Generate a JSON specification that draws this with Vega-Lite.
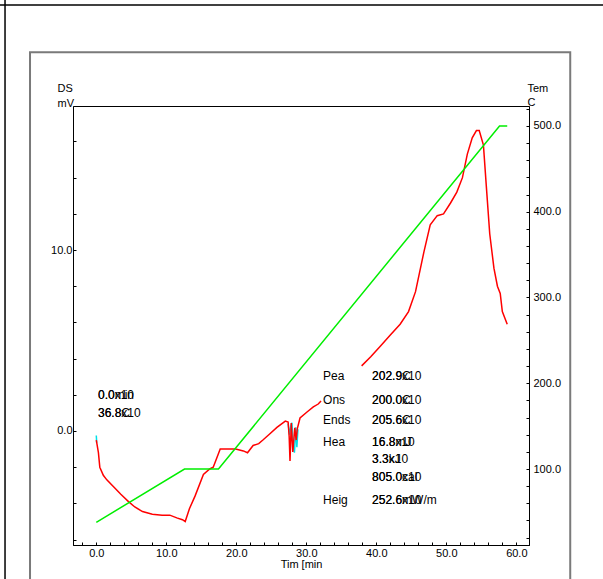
{
  "$schema": "https://vega.github.io/schema/vega-lite/v6.json",
  "width": 456,
  "height": 439,
  "autosize": {"type": "none"},
  "padding": {"left": 73, "top": 106, "right": 74, "bottom": 34},
  "background": "white",
  "config": {
    "font": "Liberation Sans",
    "view": {"stroke": "black", "strokeWidth": 1},
    "axis": {
      "domainColor": "black", "domainWidth": 1, "tickColor": "black", "labelColor": "black", "titleColor": "black",
      "labelFontSize": 11, "titleFontSize": 11, "titleFontWeight": "normal", "labelFont": "Liberation Sans", "titleFont": "Liberation Sans",
      "tickSize": -3, "labelPadding": 5, "grid": false, "labelOverlap": false, "labelFlush": false
    }
  },
  "datasets": {
    "dsc": [
      {"seg": "a", "t": 0, "mv": -0.5}, {"seg": "a", "t": 0.3, "mv": -1.2}, {"seg": "a", "t": 0.5, "mv": -2.0}, {"seg": "a", "t": 1.0, "mv": -2.45},
      {"seg": "a", "t": 1.5, "mv": -2.7}, {"seg": "a", "t": 2.5, "mv": -3.1}, {"seg": "a", "t": 3.5, "mv": -3.5}, {"seg": "a", "t": 4.6, "mv": -3.9},
      {"seg": "a", "t": 5.5, "mv": -4.2}, {"seg": "a", "t": 6.6, "mv": -4.45}, {"seg": "a", "t": 8.0, "mv": -4.6}, {"seg": "a", "t": 9.4, "mv": -4.65},
      {"seg": "a", "t": 10.5, "mv": -4.65}, {"seg": "a", "t": 11.5, "mv": -4.8}, {"seg": "a", "t": 12.3, "mv": -4.9}, {"seg": "a", "t": 12.7, "mv": -5.0},
      {"seg": "a", "t": 13.3, "mv": -4.3}, {"seg": "a", "t": 14.1, "mv": -3.6}, {"seg": "a", "t": 15.3, "mv": -2.4}, {"seg": "a", "t": 16.2, "mv": -2.1},
      {"seg": "a", "t": 16.7, "mv": -2.0}, {"seg": "a", "t": 17.4, "mv": -1.3}, {"seg": "a", "t": 17.7, "mv": -1.0}, {"seg": "a", "t": 19.9, "mv": -1.0},
      {"seg": "a", "t": 21.0, "mv": -1.1}, {"seg": "a", "t": 21.6, "mv": -1.2}, {"seg": "a", "t": 22.4, "mv": -0.8}, {"seg": "a", "t": 23.2, "mv": -0.7},
      {"seg": "a", "t": 23.8, "mv": -0.5}, {"seg": "a", "t": 24.8, "mv": -0.15}, {"seg": "a", "t": 25.8, "mv": 0.2}, {"seg": "a", "t": 27.0, "mv": 0.55},
      {"seg": "a", "t": 27.4, "mv": 0.5}, {"seg": "a", "t": 27.55, "mv": -0.3}, {"seg": "a", "t": 27.67, "mv": -1.66}, {"seg": "a", "t": 27.85, "mv": 0.44},
      {"seg": "a", "t": 28.07, "mv": -1.16}, {"seg": "a", "t": 28.35, "mv": 0.17}, {"seg": "a", "t": 28.55, "mv": -0.5}, {"seg": "a", "t": 28.7, "mv": 0.1},
      {"seg": "a", "t": 29.1, "mv": 0.72}, {"seg": "a", "t": 30.1, "mv": 1.05}, {"seg": "a", "t": 31.0, "mv": 1.33}, {"seg": "a", "t": 31.7, "mv": 1.49},
      {"seg": "a", "t": 32.1, "mv": 1.66},
      {"seg": "b", "t": 37.9, "mv": 3.6}, {"seg": "b", "t": 39.2, "mv": 4.1}, {"seg": "b", "t": 40.6, "mv": 4.7}, {"seg": "b", "t": 42.0, "mv": 5.3},
      {"seg": "b", "t": 43.4, "mv": 5.9}, {"seg": "b", "t": 44.6, "mv": 6.6}, {"seg": "b", "t": 45.6, "mv": 7.7}, {"seg": "b", "t": 46.8, "mv": 9.9},
      {"seg": "b", "t": 47.7, "mv": 11.4}, {"seg": "b", "t": 48.7, "mv": 11.9}, {"seg": "b", "t": 49.6, "mv": 12.0}, {"seg": "b", "t": 50.6, "mv": 12.6},
      {"seg": "b", "t": 51.5, "mv": 13.2}, {"seg": "b", "t": 52.3, "mv": 14.0}, {"seg": "b", "t": 53.0, "mv": 15.3}, {"seg": "b", "t": 53.7, "mv": 16.2},
      {"seg": "b", "t": 54.3, "mv": 16.6}, {"seg": "b", "t": 54.7, "mv": 16.6}, {"seg": "b", "t": 55.3, "mv": 15.8}, {"seg": "b", "t": 55.7, "mv": 13.6},
      {"seg": "b", "t": 56.2, "mv": 10.9}, {"seg": "b", "t": 56.8, "mv": 9.0}, {"seg": "b", "t": 57.3, "mv": 8.0}, {"seg": "b", "t": 57.7, "mv": 7.6},
      {"seg": "b", "t": 58.0, "mv": 6.6}, {"seg": "b", "t": 58.7, "mv": 5.9}
    ],
    "cyan": [
      {"seg": "c1", "t": 0, "mv": -0.25}, {"seg": "c1", "t": 0.05, "mv": -0.65},
      {"seg": "c2", "t": 27.4, "mv": 0.4}, {"seg": "c2", "t": 27.6, "mv": -0.2}, {"seg": "c2", "t": 27.8, "mv": 0.3}, {"seg": "c2", "t": 27.95, "mv": 0.45},
      {"seg": "c2", "t": 28.1, "mv": -0.8}, {"seg": "c2", "t": 28.3, "mv": -1.2}, {"seg": "c2", "t": 28.5, "mv": 0.2}, {"seg": "c2", "t": 28.65, "mv": -0.9},
      {"seg": "c2", "t": 28.8, "mv": 0.1}
    ],
    "temp": [
      {"t": 0, "temp": 37.8}, {"t": 12.6, "temp": 100}, {"t": 17.45, "temp": 100}, {"t": 57.6, "temp": 500}, {"t": 58.7, "temp": 500}
    ],
    "notes": [
      {"t": 0.24, "mv": 1.99, "txt": "0.0min"}, {"t": 0.24, "mv": 1.99, "txt": "0.0x10"},
      {"t": 0.24, "mv": 0.99, "txt": "36.8C"}, {"t": 0.24, "mv": 0.99, "txt": "36.8x10"},
      {"t": 32.39, "mv": 3.04, "txt": "Pea"},
      {"t": 39.39, "mv": 3.04, "txt": "202.9C"}, {"t": 39.39, "mv": 3.04, "txt": "202.9x10"},
      {"t": 32.39, "mv": 1.71, "txt": "Ons"},
      {"t": 39.39, "mv": 1.71, "txt": "200.0C"}, {"t": 39.39, "mv": 1.71, "txt": "200.0x10"},
      {"t": 32.39, "mv": 0.61, "txt": "Ends"},
      {"t": 39.39, "mv": 0.61, "txt": "205.6C"}, {"t": 39.39, "mv": 0.61, "txt": "205.6x10"},
      {"t": 32.39, "mv": -0.61, "txt": "Hea"},
      {"t": 39.39, "mv": -0.61, "txt": "16.8mJ"}, {"t": 39.39, "mv": -0.61, "txt": "16.8x10"},
      {"t": 39.39, "mv": -1.55, "txt": "3.3kJ"}, {"t": 39.39, "mv": -1.55, "txt": "3.3x10"},
      {"t": 39.39, "mv": -2.54, "txt": "805.0cal"}, {"t": 39.39, "mv": -2.54, "txt": "805.0x10"},
      {"t": 32.39, "mv": -3.81, "txt": "Heig"},
      {"t": 39.39, "mv": -3.81, "txt": "252.6mW/m"}, {"t": 39.39, "mv": -3.81, "txt": "252.6x10"}
    ]
  },
  "layer": [
    {
      "data": {"values": [{}]},
      "mark": {"type": "rect", "fill": "transparent", "stroke": "#7a7a7a", "strokeWidth": 2, "clip": false},
      "encoding": {
        "x": {"datum": -9.47, "type": "quantitative", "scale": {"domain": [-3.33, 61.81], "nice": false, "zero": false}, "axis": null},
        "x2": {"datum": 67.7},
        "y": {"datum": 20.93, "type": "quantitative", "scale": {"domain": [-6.3, 17.96], "nice": false, "zero": false}, "axis": null},
        "y2": {"datum": -10}
      }
    },
    {
      "data": {"values": [{}]},
      "mark": {"type": "rule", "color": "black", "strokeWidth": 1.5, "clip": false},
      "encoding": {
        "x": {"datum": -14, "type": "quantitative", "scale": {"domain": [-3.33, 61.81], "nice": false, "zero": false}, "axis": null},
        "x2": {"datum": 73},
        "y": {"datum": 23.54, "type": "quantitative", "scale": {"domain": [-6.3, 17.96], "nice": false, "zero": false}, "axis": null}
      }
    },
    {
      "data": {"values": [{}]},
      "mark": {"type": "rule", "color": "black", "strokeWidth": 1.5, "clip": false},
      "encoding": {
        "x": {"datum": -13.04, "type": "quantitative", "scale": {"domain": [-3.33, 61.81], "nice": false, "zero": false}, "axis": null},
        "y": {"datum": 24, "type": "quantitative", "scale": {"domain": [-6.3, 17.96], "nice": false, "zero": false}, "axis": null},
        "y2": {"datum": -10}
      }
    },
    {
      "data": {"name": "cyan"},
      "mark": {"type": "line", "color": "#00e0e8", "strokeWidth": 1.5},
      "encoding": {
        "x": {"field": "t", "type": "quantitative", "scale": {"domain": [-3.33, 61.81], "nice": false, "zero": false}, "axis": null},
        "y": {"field": "mv", "type": "quantitative", "scale": {"domain": [-6.3, 17.96], "nice": false, "zero": false}, "axis": null},
        "detail": {"field": "seg"}
      }
    },
    {
      "data": {"name": "dsc"},
      "mark": {"type": "line", "color": "#ff0000", "strokeWidth": 1.5},
      "encoding": {
        "x": {
          "field": "t", "type": "quantitative",
          "scale": {"domain": [-3.33, 61.81], "nice": false, "zero": false},
          "axis": {
            "values": [-2, 0, 2, 4, 6, 8, 10, 12, 14, 16, 18, 20, 22, 24, 26, 28, 30, 32, 34, 36, 38, 40, 42, 44, 46, 48, 50, 52, 54, 56, 58, 60],
            "labelExpr": "datum.value % 10 === 0 ? format(datum.value, '.1f') : ''",
            "labelPadding": 5,
            "title": "Tim [min", "titleBaseline": "middle", "titleY": 19
          }
        },
        "y": {
          "field": "mv", "type": "quantitative",
          "scale": {"domain": [-6.3, 17.96], "nice": false, "zero": false},
          "axis": {
            "orient": "left",
            "values": [-6, -4, -2, 0, 2, 4, 6, 8, 10, 12, 14, 16],
            "labelExpr": "datum.value % 10 === 0 ? format(datum.value, '.1f') : ''",
            "labelPadding": 4,
            "title": ["DS", "mV"], "titleAngle": 0, "titleAlign": "left", "titleBaseline": "top",
            "titleX": -16, "titleY": -24, "titleLineHeight": 15
          }
        },
        "detail": {"field": "seg"}
      }
    },
    {
      "data": {"name": "notes"},
      "mark": {"type": "text", "align": "left", "baseline": "middle", "fontSize": 12, "color": "black", "font": "Liberation Sans"},
      "encoding": {
        "x": {"field": "t", "type": "quantitative", "scale": {"domain": [-3.33, 61.81], "nice": false, "zero": false}, "axis": null},
        "y": {"field": "mv", "type": "quantitative", "scale": {"domain": [-6.3, 17.96], "nice": false, "zero": false}, "axis": null},
        "text": {"field": "txt"}
      }
    },
    {
      "data": {"name": "temp"},
      "mark": {"type": "line", "color": "#00ee00", "strokeWidth": 1.5},
      "encoding": {
        "x": {"field": "t", "type": "quantitative", "scale": {"domain": [-3.33, 61.81], "nice": false, "zero": false}, "axis": null},
        "y": {
          "field": "temp", "type": "quantitative",
          "scale": {"domain": [11.4, 523.3], "nice": false, "zero": false},
          "axis": {
            "orient": "right",
            "values": [20, 40, 60, 80, 100, 120, 140, 160, 180, 200, 220, 240, 260, 280, 300, 320, 340, 360, 380, 400, 420, 440, 460, 480, 500, 520],
            "labelExpr": "datum.value % 100 === 0 ? format(datum.value, '.1f') : ''",
            "labelPadding": 7,
            "title": ["Tem", "C"], "titleAngle": 0, "titleAlign": "left", "titleBaseline": "top",
            "titleX": -2, "titleY": -24, "titleLineHeight": 14
          }
        }
      }
    }
  ],
  "resolve": {"scale": {"x": "independent", "y": "independent"}}
}
